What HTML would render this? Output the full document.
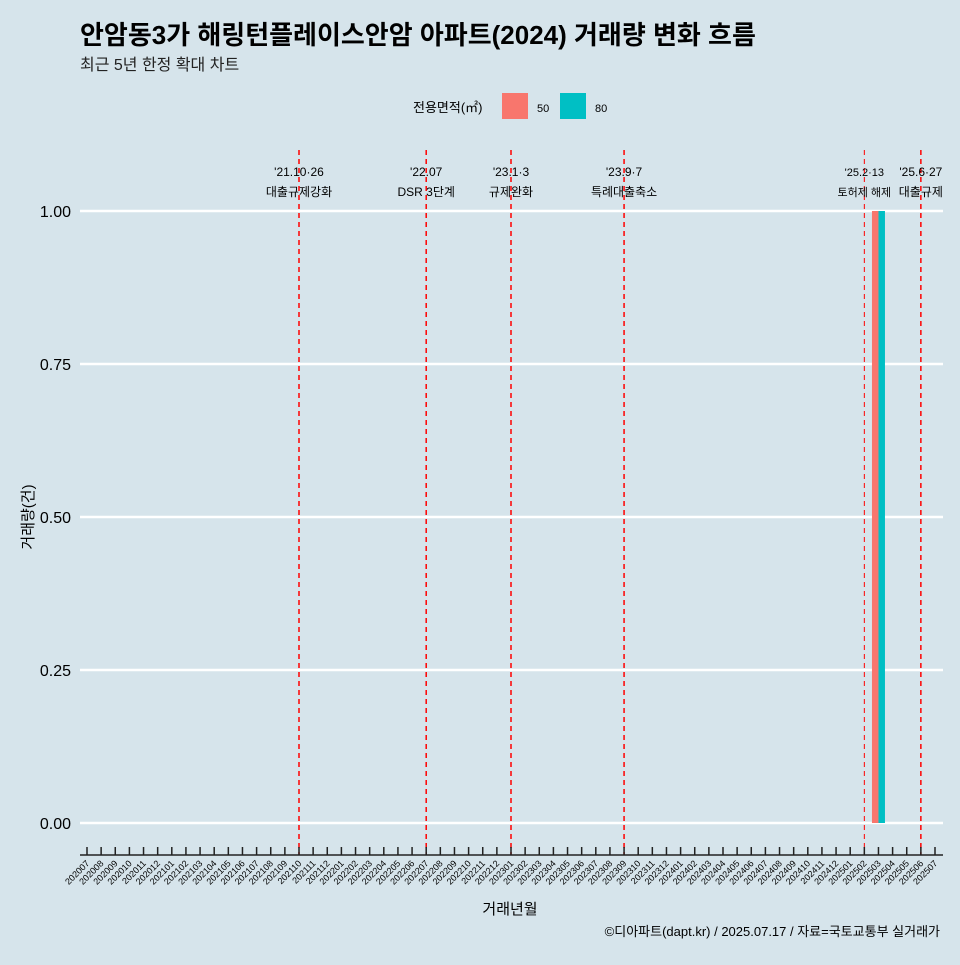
<!DOCTYPE html>
<html><head><meta charset="utf-8"><style>
body{margin:0;background:#d6e4eb;font-family:"Liberation Sans","Noto Sans CJK KR",sans-serif}
</style></head><body>
<svg width="960" height="960" xmlns="http://www.w3.org/2000/svg" style="font-family:'Liberation Sans','Noto Sans CJK KR',sans-serif">
<rect width="960" height="960" fill="#d6e4eb"/>
<text x="80" y="44" font-size="26" font-weight="bold" fill="#000">안암동3가 해링턴플레이스안암 아파트(2024) 거래량 변화 흐름</text>
<text x="80" y="70" font-size="16" fill="#222">최근 5년 한정 확대 차트</text>
<g>
<text x="413" y="112" font-size="13">전용면적(㎡)</text>
<rect x="502" y="93" width="26" height="26" fill="#f8766d"/>
<text x="537" y="112" font-size="11">50</text>
<rect x="560" y="93" width="26" height="26" fill="#00bfc4"/>
<text x="595" y="112" font-size="11">80</text>
</g>
<g id="grid"></g><g id="marks"></g><g id="ann"></g><g id="xaxis"></g>
<text x="940" y="936" font-size="13" text-anchor="end">©디아파트(dapt.kr) / 2025.07.17 / 자료=국토교통부 실거래가</text>
<text x="510" y="914" font-size="15" text-anchor="middle">거래년월</text>
<text x="0" y="0" font-size="15" text-anchor="middle" transform="translate(33,517) rotate(-90)">거래량(건)</text>
</svg>
<script>
const months=[];for(let y=2020;y<=2025;y++)for(let m=1;m<=12;m++){const k=y*100+m;if(k>=202007&&k<=202507)months.push(String(k));}
const barMonths=["202503","202503"];
const barSeries=["50","80"];
const barValues=[1,1];
const yTicks=[0,0.25,0.5,0.75,1];
const yTickLabels=["0.00","0.25","0.50","0.75","1.00"];
const eventMonths=["202110","202207","202301","202309","202502","202506"];
const eventDates=["'21.10·26","'22.07","'23.1·3","'23.9·7","'25.2·13","'25.6·27"];
const eventLabels=["대출규제강화","DSR 3단계","규제완화","특례대출축소","토허제 해제","대출규제"];
const NS="http://www.w3.org/2000/svg";
const x=i=>87+i*(935-87)/(months.length-1);
const y=v=>823-v*(823-211);
function mk(t,a,p){const e=document.createElementNS(NS,t);for(const k in a)e.setAttribute(k,a[k]);p.appendChild(e);return e;}
const g=document.getElementById('grid'),mg=document.getElementById('marks'),an=document.getElementById('ann'),xa=document.getElementById('xaxis');
yTicks.forEach((v,i)=>{const l=mk('line',{x1:80,x2:943,y1:y(v),y2:y(v),stroke:'#fff','stroke-width':2.5},g);

const t=mk('text',{x:71,y:y(v)+6,'font-size':16,'text-anchor':'end'},g);t.textContent=yTickLabels[i];
});
const bw=6.5;
barValues.forEach((v,i)=>{const cx=x(months.indexOf(barMonths[i]));const off=barSeries[i]==="50"?-bw:0;
const r=mk('rect',{x:cx+off,y:y(v),width:bw,height:y(0)-y(v),fill:barSeries[i]==="50"?'#f8766d':'#00bfc4'},mg);
});
eventMonths.forEach((m,i)=>{const cx=x(months.indexOf(m));const thin=m==="202502";
const l=mk('line',{x1:cx,x2:cx,y1:150,y2:855,stroke:'#ff0000','stroke-width':thin?1:1.5,'stroke-dasharray':'5,4'},an);

const fs=thin?11:12;
const t1=mk('text',{x:cx,y:176,'font-size':fs,'text-anchor':'middle'},an);t1.textContent=eventDates[i];

const t2=mk('text',{x:cx,y:196,'font-size':fs,'text-anchor':'middle'},an);t2.textContent=eventLabels[i];
});
const ax=mk('line',{x1:80,x2:943,y1:855,y2:855,stroke:'#222','stroke-width':1.5},xa);

months.forEach((m,i)=>{const cx=x(i);const tk=mk('line',{x1:cx,x2:cx,y1:847,y2:855,stroke:'#222','stroke-width':1.5},xa);

const t=mk('text',{x:0,y:0,'font-size':9,'text-anchor':'end',transform:`translate(${cx+3},${864}) rotate(-45)`},xa);t.textContent=m;
});
</script>
</body></html>
